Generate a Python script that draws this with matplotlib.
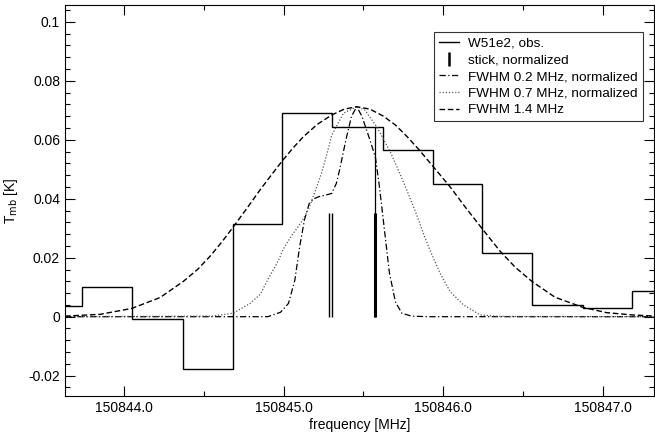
import matplotlib
matplotlib.use("Agg")
import matplotlib.pyplot as plt
from matplotlib.lines import Line2D
from matplotlib.ticker import MultipleLocator, FuncFormatter

plt.rcParams['font.family'] = ['Liberation Sans', 'DejaVu Sans']
plt.rcParams['axes.unicode_minus'] = False

# observed spectrum: channel edges [MHz] and T_mb [K]
chan_edges = [150843.427, 150843.739, 150844.052, 150844.372, 150844.681, 150844.992,
              150845.301, 150845.621, 150845.933, 150846.241, 150846.554, 150846.872,
              150847.181, 150847.494]
chan_tmb = [0.0037, 0.0101, -0.0009, -0.0176, 0.0314, 0.0690, 0.0642, 0.0565,
            0.0450, 0.0215, 0.0040, 0.0028, 0.0087]

# stick spectrum (normalized)
stick_freq_a = [150845.282, 150845.301]
stick_tmb_a = [0.0350, 0.0350]
stick_freq_b = [150845.575]
stick_tmb_b = [0.0350]
tall_stick_freq = [150845.574]
tall_stick_tmb = [0.0642]

# FWHM 1.4 MHz model
f14 = [150843.630, 150843.850, 150844.048, 150844.226, 150844.372, 150844.460,
       150844.539, 150844.615, 150844.685, 150844.770, 150844.852, 150844.925,
       150844.992, 150845.060, 150845.123, 150845.210, 150845.301, 150845.380,
       150845.458, 150845.540, 150845.625, 150845.700, 150845.771, 150845.850,
       150845.932, 150846.043, 150846.140, 150846.241, 150846.356, 150846.450,
       150846.554, 150846.700, 150846.872, 150847.020, 150847.181, 150847.327]
t14 = [0.0002, 0.0008, 0.0028, 0.0065, 0.0120, 0.0160,
       0.0205, 0.0255, 0.0305, 0.0368, 0.0430, 0.0482,
       0.0529, 0.0573, 0.0610, 0.0652, 0.0684, 0.0704,
       0.0712, 0.0704, 0.0680, 0.0650, 0.0612, 0.0565,
       0.0512, 0.0440, 0.0370, 0.0300, 0.0222, 0.0168,
       0.0120, 0.0066, 0.0032, 0.0014, 0.0006, 0.0002]

# FWHM 0.7 MHz model, normalized
f07 = [150843.630, 150844.550, 150844.685, 150844.789, 150844.852, 150844.915,
       150844.967, 150844.998, 150845.050, 150845.110, 150845.154, 150845.200,
       150845.239, 150845.270, 150845.301, 150845.374, 150845.458, 150845.510,
       150845.583, 150845.667, 150845.720, 150845.771, 150845.830, 150845.880,
       150845.917, 150845.980, 150846.043, 150846.126, 150846.231, 150846.350,
       150847.327]
t07 = [0.0000, 0.0002, 0.0012, 0.0045, 0.0075, 0.0140,
       0.0190, 0.0230, 0.0275, 0.0320, 0.0362, 0.0430,
       0.0490, 0.0550, 0.0615, 0.0690, 0.0712, 0.0700,
       0.0644, 0.0560, 0.0495, 0.0430, 0.0350, 0.0275,
       0.0225, 0.0147, 0.0085, 0.0040, 0.0006, 0.0001,
       0.0000]

# FWHM 0.2 MHz model, normalized
f02 = [150843.630, 150844.900, 150844.980, 150845.030, 150845.070, 150845.100,
       150845.130, 150845.160, 150845.190, 150845.220, 150845.260, 150845.301,
       150845.330, 150845.350, 150845.390, 150845.425, 150845.458, 150845.490,
       150845.540, 150845.575, 150845.600, 150845.630, 150845.662, 150845.700,
       150845.740, 150845.800, 150845.900, 150847.327]
t02 = [0.0000, 0.0000, 0.0015, 0.0045, 0.0124, 0.0237,
       0.0328, 0.0384, 0.0400, 0.0407, 0.0412, 0.0418,
       0.0452, 0.0497, 0.0600, 0.0680, 0.0712, 0.0680,
       0.0600, 0.0540, 0.0440, 0.0300, 0.0150, 0.0050,
       0.0012, 0.0002, 0.0000, 0.0000]

fig = plt.figure(figsize=(6.55, 4.32), dpi=100)
ax = fig.add_axes([0.0992, 0.0833, 0.8993, 0.9051])

ax.stairs(chan_tmb, chan_edges, color='black', lw=1.0)
ax.vlines(stick_freq_a, 0, stick_tmb_a, color='black', lw=1.0)
ax.vlines(stick_freq_b, 0, stick_tmb_b, color='black', lw=2.2)
ax.vlines(tall_stick_freq, 0, tall_stick_tmb, color='black', lw=0.9)
ax.plot(f02, t02, color='black', lw=0.9, ls=(0, (5, 2, 1, 2)))
ax.plot(f07, t07, color='#555555', lw=0.9, ls=(0, (1, 1.5)))
ax.plot(f14, t14, color='black', lw=1.0, ls=(0, (4, 2)))

ax.set_xlim(150843.63, 150847.32)
ax.set_ylim(-0.0269, 0.1057)

ax.xaxis.set_major_locator(MultipleLocator(1.0))
ax.xaxis.set_minor_locator(MultipleLocator(0.5))
ax.yaxis.set_major_locator(MultipleLocator(0.02))
ax.yaxis.set_minor_locator(MultipleLocator(0.004))
ax.xaxis.set_major_formatter(FuncFormatter(lambda v, p: '%.1f' % v))
ax.yaxis.set_major_formatter(FuncFormatter(lambda v, p: '%g' % round(v, 4)))
ax.tick_params(which='both', direction='in', top=True, right=True, labelsize=10)
ax.tick_params(which='major', length=7, width=0.8)
ax.tick_params(which='minor', length=3.5, width=0.8)

ax.set_xlabel('frequency [MHz]', fontsize=10, labelpad=2)
ax.set_ylabel('T$_{\\rm mb}$ [K]', fontsize=10, labelpad=6)

handles = [
    Line2D([], [], color='black', lw=1.0),
    Line2D([], [], color='black', ls='None', marker='|', markersize=10, markeredgewidth=1.8),
    Line2D([], [], color='black', lw=0.9, ls=(0, (5, 2, 1, 2))),
    Line2D([], [], color='#555555', lw=0.9, ls=(0, (1, 1.5))),
    Line2D([], [], color='black', lw=1.0, ls=(0, (4, 2))),
]
labels = ['W51e2, obs.', 'stick, normalized', 'FWHM 0.2 MHz, normalized',
          'FWHM 0.7 MHz, normalized', 'FWHM 1.4 MHz']
leg = ax.legend(handles, labels, loc='upper right', bbox_to_anchor=(0.981, 0.93),
                borderaxespad=0, fontsize=9.7, frameon=True, fancybox=False,
                edgecolor='black', handlelength=1.5, labelspacing=0.32,
                borderpad=0.35, handletextpad=0.7)
leg.get_frame().set_linewidth(0.8)

fig.savefig('out.png', dpi=100)
